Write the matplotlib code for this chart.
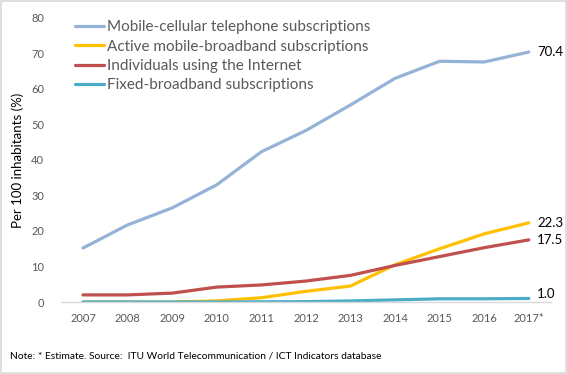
import matplotlib
matplotlib.use("Agg")
import matplotlib.pyplot as plt
from matplotlib.patches import Rectangle

plt.rcParams['font.family'] = ['Lato', 'DejaVu Sans']

years = ["2007", "2008", "2009", "2010", "2011", "2012", "2013", "2014", "2015", "2016", "2017*"]
mobile_cellular = [15.2, 21.7, 26.5, 33.0, 42.3, 48.3, 55.5, 63.0, 67.8, 67.6, 70.4]
mobile_broadband = [0.0, 0.0, 0.0, 0.3, 1.2, 3.0, 4.5, 10.5, 15.0, 19.2, 22.3]
internet_users = [2.0, 2.0, 2.5, 4.2, 4.8, 5.9, 7.5, 10.3, 12.8, 15.3, 17.5]
fixed_broadband = [0.0, 0.0, 0.0, 0.0, 0.05, 0.1, 0.3, 0.6, 0.9, 0.9, 1.0]
end_labels = ["70.4", "22.3", "17.5", "1.0"]

series = [
    ("Mobile-cellular telephone subscriptions", mobile_cellular, "#95B3D7"),
    ("Active mobile-broadband subscriptions", mobile_broadband, "#FFC000"),
    ("Individuals using the Internet", internet_users, "#C0504D"),
    ("Fixed-broadband subscriptions", fixed_broadband, "#4BACC6"),
]

fig = plt.figure(figsize=(5.67, 3.74), dpi=100)
ax = fig.add_axes([0.107, 0.1925, 0.865, 0.7595])

x = list(range(len(years)))
for name, vals, col in series:
    ax.plot(x, vals, color=col, lw=2.3, label=name, solid_capstyle='round')

label_offsets = [0, 0, 0, 1.2]
for (name, vals, col), lab, off in zip(series, end_labels, label_offsets):
    ax.annotate(lab, (x[-1], vals[-1] + off), xytext=(6, 0), textcoords='offset points',
                ha='left', va='center', fontsize=9.5, color='#000000')

ax.set_xlim(-0.5, len(years) - 0.5)
ax.set_ylim(0, 80)
ax.set_yticks(range(0, 81, 10))
ax.set_xticks(x)
ax.set_xticklabels(years)
for s in ['top', 'right', 'left']:
    ax.spines[s].set_visible(False)
ax.spines['bottom'].set_color('#D9D9D9')
ax.spines['bottom'].set_linewidth(1)
ax.tick_params(axis='both', length=0, labelsize=8, colors='#595959', pad=8)
ax.tick_params(axis='y', pad=12)
ax.set_ylabel("Per 100 inhabitants (%)", fontsize=9.5, color='#000000', labelpad=5)

leg = ax.legend(loc='upper left', bbox_to_anchor=(0.002, 1.04), frameon=False,
                fontsize=11, handlelength=1.9, handletextpad=0.2, labelspacing=0.35,
                labelcolor='#595959')

fig.text(0.018, 0.048, "Note: * Estimate. Source:  ITU World Telecommunication / ICT Indicators database",
         fontsize=7.4, color='#000000', ha='left', va='center')

fig.patches.append(Rectangle((0.001, 0.002), 0.997, 0.995, transform=fig.transFigure,
                             fill=False, edgecolor='#D9D9D9', lw=1.2))

fig.savefig("out.png", dpi=100)
